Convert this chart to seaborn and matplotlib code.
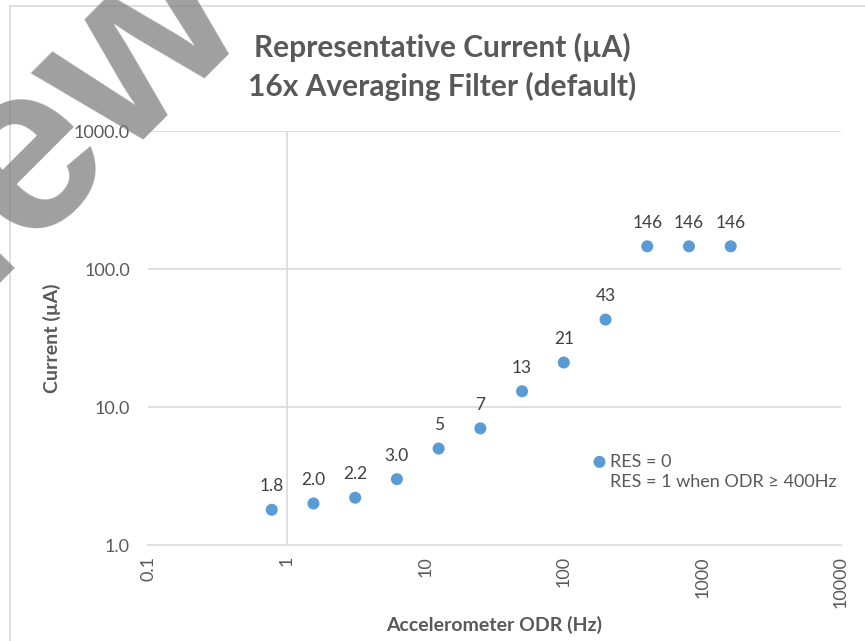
import matplotlib
matplotlib.use("Agg")
import matplotlib.pyplot as plt
from matplotlib.lines import Line2D
from matplotlib.patches import Rectangle
import seaborn as sns
import pandas as pd

sns.set_style("white")
plt.rcParams["font.family"] = ["Lato", "DejaVu Sans"]

# data
odr_hz = [0.78125, 1.5625, 3.125, 6.25, 12.5, 25, 50, 100, 200, 400, 800, 1600]
current_ua = [1.8, 2.0, 2.2, 3.0, 5, 7, 13, 21, 43, 146, 146, 146]
point_labels = ["1.8", "2.0", "2.2", "3.0", "5", "7", "13", "21", "43", "146", "146", "146"]
x_ticks = [0.1, 1, 10, 100, 1000, 10000]
x_ticklabels = ["0.1", "1", "10", "100", "1000", "10000"]
y_ticks = [1, 10, 100, 1000]
y_ticklabels = ["1.0", "10.0", "100.0", "1000.0"]

df = pd.DataFrame({"odr": odr_hz, "current": current_ua})

W, H = 865, 641
fig = plt.figure(figsize=(W / 100, H / 100), dpi=100)
ax = fig.add_axes([148 / W, 1 - 545 / H, (841 - 148) / W, (545 - 131) / H])

grid_c = "#d9d9d9"
text_c = "#595959"
blue = "#5b9bd5"

sns.scatterplot(data=df, x="odr", y="current", ax=ax, color=blue, s=75,
                edgecolor="none", label="RES = 0", zorder=3)
ax.set_xscale("log")
ax.set_yscale("log")
ax.set_xlim(0.1, 10000)
ax.set_ylim(1, 1000)

ax.set_xticks(x_ticks)
ax.set_xticklabels(x_ticklabels, rotation=90)
ax.set_yticks(y_ticks)
ax.set_yticklabels(y_ticklabels)
ax.minorticks_off()
ax.tick_params(axis="x", direction="out", length=5, width=1, color=grid_c,
               labelsize=13, labelcolor=text_c, pad=3)
ax.tick_params(axis="y", length=0, labelsize=13, labelcolor=text_c, pad=13)

for s in ["top", "right", "left"]:
    ax.spines[s].set_visible(False)
ax.spines["bottom"].set_color(grid_c)
ax.spines["bottom"].set_linewidth(1.2)
for yv in y_ticks[1:]:
    ax.axhline(yv, color=grid_c, lw=1.2, zorder=1)
ax.axvline(1, color=grid_c, lw=1.2, zorder=1)

for xv, yv, lab in zip(odr_hz, current_ua, point_labels):
    ax.annotate(lab, (xv, yv), xytext=(0, 11), textcoords="offset points",
                ha="center", va="bottom", fontsize=12.5, color="#404040")

ax.set_xlabel("Accelerometer ODR (Hz)", fontsize=14, fontweight="bold",
              color=text_c, labelpad=6)
ax.set_ylabel("Current (µA)", fontsize=14, fontweight="bold", color=text_c,
              labelpad=9)

h, _ = ax.get_legend_handles_labels()
blank = Line2D([], [], linestyle="none", marker=None)
ax.legend([h[0], blank], ["RES = 0", "RES = 1 when ODR ≥ 400Hz"],
          loc="upper left", bbox_to_anchor=(0.615, 0.26), frameon=False,
          fontsize=13, labelcolor=text_c, handletextpad=0.1, handlelength=1.0,
          labelspacing=0.25)

fig.text(442 / W, 1 - 47 / H, "Representative Current (µA)", ha="center",
         va="center", fontsize=21.5, fontweight="bold", color=text_c)
fig.text(442 / W, 1 - 86 / H, "16x Averaging Filter (default)", ha="center",
         va="center", fontsize=21.5, fontweight="bold", color=text_c)

# chart area border
fig.patches.append(Rectangle((10 / W, -0.01), 1.0, 1 - 6 / H + 0.01,
                             transform=fig.transFigure, fill=False,
                             edgecolor=grid_c, lw=1.2))

# watermark
fig.text(248 / W, 1 - 19 / H, "Preview", ha="right", va="baseline",
         rotation=45, rotation_mode="anchor", fontsize=172, fontweight="bold",
         color="#777777", alpha=0.7, family="Liberation Sans", zorder=10)

fig.savefig("out.png", dpi=100)
